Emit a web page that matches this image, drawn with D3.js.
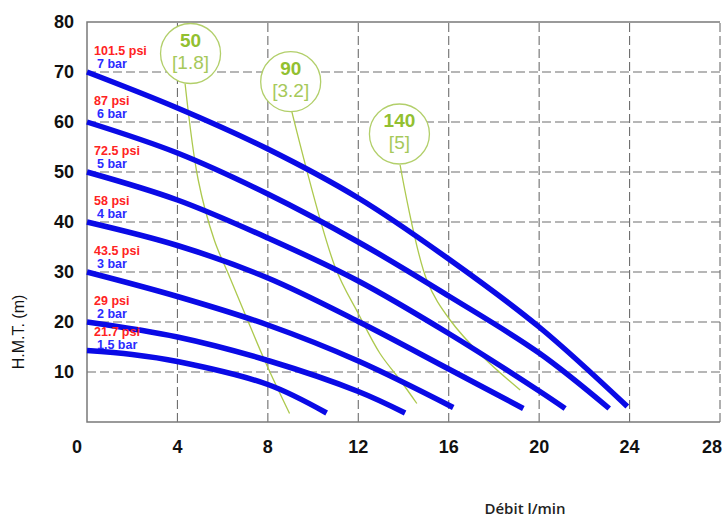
<!DOCTYPE html>
<html>
<head>
<meta charset="utf-8">
<script src="https://cdn.jsdelivr.net/npm/d3@7"></script>
<style>
  body { margin: 0; background: #fff; }
  svg { display: block; }
</style>
</head>
<body>
<div id="chart"></div>
<script>
const width = 726;
const height = 520;

// axis ticks
const xTicks = [0, 4, 8, 12, 16, 20, 24, 28];
const yTicks = [10, 20, 30, 40, 50, 60, 70, 80];

// pump curves, one per air pressure (flow l/min, head m)
const psiLabels = ["101.5 psi", "87 psi", "72.5 psi", "58 psi", "43.5 psi", "29 psi", "21.7 psi"];
const barLabels = ["7 bar", "6 bar", "5 bar", "4 bar", "3 bar", "2 bar", "1.5 bar"];
const curve7 = [[0, 70], [4, 62.8], [8, 54.6], [12, 44.8], [16, 32.6], [20, 19], [23.9, 3.1]];
const curve6 = [[0, 60], [4, 53.8], [8, 45.6], [12, 36], [16, 25.2], [20, 13.8], [23.1, 2.7]];
const curve5 = [[0, 50], [4, 44.4], [8, 36.8], [12, 28.2], [16, 17.7], [20, 6.2], [21.15, 2.7]];
const curve4 = [[0, 40], [4, 35.3], [8, 28.8], [12, 20.1], [16, 10.6], [19.3, 2.7]];
const curve3 = [[0, 30], [4, 25.1], [8, 19.4], [12, 12.2], [16.2, 2.9]];
const curve2 = [[0, 20], [4, 17], [8, 12.3], [12, 6.1], [14.07, 1.8]];
const curve15 = [[0, 14.3], [2, 13.5], [4, 12.1], [8, 7.5], [10.6, 1.8]];
const pumpCurves = [curve7, curve6, curve5, curve4, curve3, curve2, curve15];

// air consumption lines (Nl/min [Nm3/h])
const airValues = ["50", "90", "140"];
const airSub = ["[1.8]", "[3.2]", "[5]"];
const airBubbles = [[4.58, 73.7], [9.01, 68.06], [13.82, 57.6]];
const air50 = [[4.34, 67.6], [4.92, 48.4], [5.63, 36.4], [6.3, 29.1], [7.04, 21.06], [7.92, 11.7], [8.96, 1.7]];
const air90 = [[9.06, 62.06], [10.97, 31.06], [12.0, 21.7], [12.96, 13.7], [13.85, 8.4], [14.59, 3.7]];
const air140 = [[13.85, 51.4], [15.03, 28.4], [16.06, 20.4], [17.52, 13], [19.16, 6.4]];
const airCurves = [air50, air90, air140];

const svg = d3.select("#chart")
    .append("svg")
    .attr("width", width)
    .attr("height", height);

const x = d3.scaleLinear().domain([0, 28]).range([87, 720]);
const y = d3.scaleLinear().domain([0, 80]).range([422, 22]);

// grid
svg.append("g")
    .selectAll("line")
    .data(xTicks.slice(1))
    .join("line")
    .attr("x1", d => x(d)).attr("x2", d => x(d))
    .attr("y1", y(0)).attr("y2", y(80))
    .attr("stroke", "#6e6e6e")
    .attr("stroke-width", 1.1)
    .attr("stroke-dasharray", "9,4");

svg.append("g")
    .selectAll("line")
    .data(yTicks.slice(0, -1))
    .join("line")
    .attr("x1", x(0)).attr("x2", x(28))
    .attr("y1", d => y(d)).attr("y2", d => y(d))
    .attr("stroke", "#6e6e6e")
    .attr("stroke-width", 1.1)
    .attr("stroke-dasharray", "9,4");

// frame: top, left, bottom solid
svg.append("path")
    .attr("d", `M${x(28)},${y(80)}H${x(0)}V${y(0)}H${x(28)}`)
    .attr("fill", "none")
    .attr("stroke", "#7a7a7a")
    .attr("stroke-width", 1.5);

// tick labels
svg.append("g")
    .selectAll("text")
    .data(yTicks)
    .join("text")
    .attr("x", 74)
    .attr("y", d => y(d))
    .attr("dy", "0.36em")
    .attr("text-anchor", "end")
    .attr("font-family", "Liberation Sans, Arial, sans-serif")
    .attr("font-weight", "bold")
    .attr("font-size", 18)
    .attr("fill", "#111")
    .text(d => d);

svg.append("g")
    .selectAll("text")
    .data(xTicks)
    .join("text")
    .attr("x", (d, i) => x(d) + (i === 0 ? -10 : i === xTicks.length - 1 ? -8 : 0))
    .attr("y", 447)
    .attr("dy", "0.36em")
    .attr("text-anchor", "middle")
    .attr("font-family", "Liberation Sans, Arial, sans-serif")
    .attr("font-weight", "bold")
    .attr("font-size", 18)
    .attr("fill", "#111")
    .text(d => d);

// axis titles
svg.append("text")
    .attr("transform", "translate(24,332) rotate(-90)")
    .attr("text-anchor", "middle")
    .attr("font-family", "Liberation Sans, Arial, sans-serif")
    .attr("font-size", 16)
    .attr("fill", "#111")
    .text("H.M.T. (m)");

svg.append("text")
    .attr("x", 525)
    .attr("y", 514)
    .attr("text-anchor", "middle")
    .attr("font-family", "Open Sans, sans-serif")
    .attr("font-weight", 600)
    .attr("font-size", 15)
    .attr("fill", "#222")
    .text("Débit l/min");

// air consumption lines
const line = d3.line()
    .x(d => x(d[0]))
    .y(d => y(d[1]))
    .curve(d3.curveCatmullRom);

svg.append("g")
    .selectAll("path")
    .data(airCurves)
    .join("path")
    .attr("d", line)
    .attr("fill", "none")
    .attr("stroke", "#adc94e")
    .attr("stroke-width", 1.3);

// pump curves
svg.append("g")
    .selectAll("path")
    .data(pumpCurves)
    .join("path")
    .attr("d", line)
    .attr("fill", "none")
    .attr("stroke", "#0a0ae6")
    .attr("stroke-width", 5.5);

// pressure labels
const lab = svg.append("g")
    .attr("font-family", "Liberation Sans, Arial, sans-serif")
    .attr("font-weight", "bold")
    .attr("font-size", 12.5);

pumpCurves.forEach((c, i) => {
    const last = i === pumpCurves.length - 1;
    const y0 = y(c[0][1]);
    lab.append("text")
        .attr("x", 94)
        .attr("y", y0 + (last ? -19 : -22))
        .attr("dy", "0.36em")
        .attr("fill", "#ff2222")
        .text(psiLabels[i]);
    lab.append("text")
        .attr("x", 97)
        .attr("y", y0 + (last ? -6 : -9))
        .attr("dy", "0.36em")
        .attr("fill", "#2b2bff")
        .text(barLabels[i]);
});

// air bubbles
const bub = svg.append("g")
    .selectAll("g")
    .data(airBubbles)
    .join("g")
    .attr("transform", d => `translate(${x(d[0])},${y(d[1])})`);

bub.append("circle")
    .attr("r", 30)
    .attr("fill", "#fff")
    .attr("stroke", "#b2cf6a")
    .attr("stroke-width", 1.3);

bub.append("text")
    .attr("y", -13.5)
    .attr("dy", "0.36em")
    .attr("text-anchor", "middle")
    .attr("font-family", "Liberation Sans, Arial, sans-serif")
    .attr("font-weight", "bold")
    .attr("font-size", 19)
    .attr("fill", "#92c030")
    .text((d, i) => airValues[i]);

bub.append("text")
    .attr("y", 8.5)
    .attr("dy", "0.36em")
    .attr("text-anchor", "middle")
    .attr("font-family", "Liberation Sans, Arial, sans-serif")
    .attr("font-size", 19)
    .attr("fill", "#a6c95a")
    .text((d, i) => airSub[i]);
</script>
</body>
</html>
